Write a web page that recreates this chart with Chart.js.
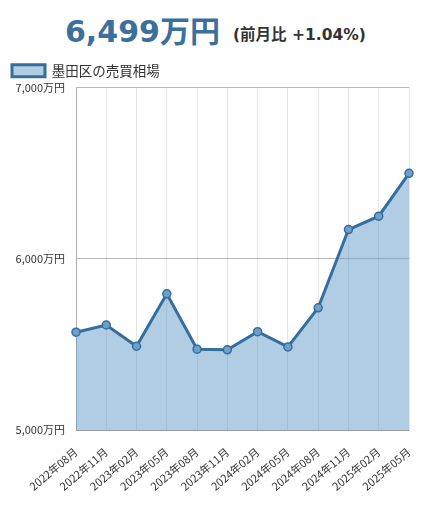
<!DOCTYPE html>
<html><head><meta charset="utf-8">
<script src="https://cdn.jsdelivr.net/npm/chart.js@4/dist/chart.umd.min.js"></script>
<style>
html,body{margin:0;padding:0;background:#fff;width:424px;height:509px;overflow:hidden;}
#title{position:absolute;left:0;top:0;width:424px;height:50px;white-space:nowrap;}
#big{font-family:"DejaVu Sans","Noto Sans CJK JP",sans-serif;font-weight:bold;font-size:30px;color:#3a6f9e;position:absolute;left:65px;top:7px;}
#small{font-family:"DejaVu Sans","Noto Sans CJK JP",sans-serif;font-weight:bold;font-size:15.5px;color:#333;position:absolute;left:233px;top:22px;}
#wrap{position:absolute;left:0;top:50px;width:424px;height:459px;}
</style></head><body>
<div id="title"><span id="big">6,499万円</span><span id="small">(前月比 +1.04%)</span></div>
<div id="wrap"><canvas id="c"></canvas></div>
<script>
const labels = ["2022年08月","2022年11月","2023年02月","2023年05月","2023年08月","2023年11月","2024年02月","2024年05月","2024年08月","2024年11月","2025年02月","2025年05月"];
const values = [5572,5614,5490,5796,5473,5469,5575,5486,5714,6171,6249,6499];
const seriesName = "墨田区の売買相場";
const yTicks = [5000,6000,7000];

const jp = '"Noto Sans CJK JP","DejaVu Sans",sans-serif';
new Chart(document.getElementById('c'), {
  type: 'line',
  data: {
    labels: labels,
    datasets: [{
      label: seriesName,
      data: values,
      borderColor: '#336e9e',
      backgroundColor: 'rgba(100,155,200,0.5)',
      borderWidth: 3,
      fill: true,
      tension: 0,
      pointRadius: 4,
      pointBackgroundColor: '#6f9fca',
      pointBorderColor: '#336e9e',
      pointBorderWidth: 1.5
    }]
  },
  options: {
    responsive: true,
    maintainAspectRatio: false,
    animation: false,
    layout: { padding: { left: 2, right: 15, top: 4, bottom: 1 } },
    plugins: {
      legend: {
        align: 'start',
        labels: {
          boxWidth: 33, boxHeight: 12,
          font: { family: jp, size: 13.5 },
          color: '#333',
          padding: 10
        }
      },
      tooltip: { enabled: false }
    },
    scales: {
      x: {
        offset: false,
        afterFit: (s) => { s.paddingLeft = 0; s.paddingRight = 0; },
        grid: { color: 'rgba(0,0,0,0.1)', drawTicks: false },
        border: { color: 'rgba(0,0,0,0.15)' },
        ticks: { maxRotation: 40, minRotation: 40, padding: 15, autoSkip: false, font: { family: jp, size: 11 }, color: '#333' }
      },
      y: {
        min: 5000, max: 7000,
        afterFit: (s) => { s.width = 74; },
        afterBuildTicks: (s) => { s.ticks = yTicks.map(v => ({ value: v })); },
        grid: { color: 'rgba(0,0,0,0.28)', drawTicks: false },
        border: { color: 'rgba(0,0,0,0.25)' },
        ticks: { padding: 11, font: { family: jp, size: 11 }, color: '#333',
          callback: (v) => v.toLocaleString('en-US') + '万円' }
      }
    }
  }
});
</script>
</body></html>
